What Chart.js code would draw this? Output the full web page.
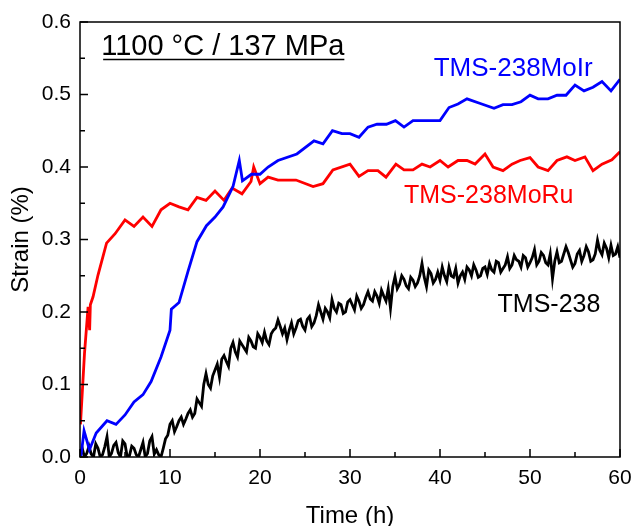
<!DOCTYPE html>
<html>
<head>
<meta charset="utf-8">
<script src="https://cdn.jsdelivr.net/npm/chart.js@4.4.1/dist/chart.umd.min.js"></script>
<style>
  html, body { margin: 0; padding: 0; background: #fff; }
</style>
</head>
<body>
<canvas id="creep-chart" width="633" height="526"></canvas>
<script>
// TMS-238MoRu (red)
const ruTime = [0.05, 0.5, 0.9, 1.07, 1.15, 1.45, 2.0, 2.95, 3.9, 5.0, 6.0, 7.0, 8.0, 9.0, 10.0, 11.0, 12.0, 13.0, 14.0, 15.0, 16.0, 16.9, 18.0, 19.0, 19.3, 20.0, 20.9, 22.0, 24.0, 25.9, 27.0, 28.1, 30.0, 31.0, 32.0, 33.1, 34.0, 35.1, 36.0, 37.0, 38.0, 38.9, 40.0, 40.9, 42.0, 43.0, 43.9, 45.0, 45.9, 47.0, 48.0, 48.9, 50.0, 50.9, 52.0, 53.0, 54.1, 55.0, 56.1, 57.0, 58.0, 59.1, 60.0];
const ruStrain = [0.045, 0.143, 0.207, 0.175, 0.21, 0.221, 0.251, 0.295, 0.308, 0.327, 0.318, 0.331, 0.318, 0.341, 0.35, 0.345, 0.341, 0.358, 0.354, 0.367, 0.354, 0.371, 0.363, 0.38, 0.4, 0.377, 0.386, 0.382, 0.382, 0.373, 0.377, 0.396, 0.404, 0.387, 0.395, 0.395, 0.386, 0.404, 0.396, 0.396, 0.404, 0.4, 0.409, 0.4, 0.409, 0.409, 0.404, 0.418, 0.4, 0.395, 0.404, 0.409, 0.413, 0.4, 0.395, 0.409, 0.414, 0.409, 0.414, 0.395, 0.404, 0.41, 0.421];

// TMS-238MoIr (blue)
const irTime = [0.1, 0.45, 1.05, 1.8, 3.0, 4.0, 5.0, 6.0, 7.0, 7.9, 9.0, 10.0, 10.15, 11.0, 12.0, 13.0, 14.05, 15.0, 15.9, 17.0, 17.7, 18.05, 19.05, 20.0, 20.9, 22.0, 24.1, 26.0, 27.0, 28.05, 29.1, 30.0, 31.0, 32.0, 33.0, 34.05, 35.05, 36.0, 37.0, 38.0, 39.0, 40.0, 41.0, 42.0, 43.0, 44.4, 46.0, 47.0, 48.0, 49.0, 50.0, 50.9, 52.0, 53.0, 54.0, 55.0, 56.0, 57.0, 58.0, 59.0, 60.0];
const irStrain = [0.0, 0.036, 0.01, 0.033, 0.05, 0.045, 0.058, 0.076, 0.086, 0.104, 0.138, 0.175, 0.204, 0.213, 0.256, 0.297, 0.319, 0.331, 0.345, 0.373, 0.409, 0.381, 0.39, 0.39, 0.4, 0.409, 0.418, 0.436, 0.432, 0.45, 0.446, 0.446, 0.441, 0.455, 0.459, 0.459, 0.464, 0.455, 0.464, 0.464, 0.464, 0.464, 0.482, 0.487, 0.494, 0.488, 0.481, 0.486, 0.486, 0.49, 0.499, 0.494, 0.494, 0.499, 0.499, 0.513, 0.505, 0.51, 0.518, 0.505, 0.521];

// TMS-238 (black, noisy)
const baseTime = [
  0, 0.25, 0.5, 0.75, 1, 1.25, 1.5, 1.75, 2, 2.25, 2.5, 2.75, 3, 3.25, 3.5, 3.75, 4, 4.25, 4.5, 4.75,
  5, 5.25, 5.5, 5.75, 6, 6.25, 6.5, 6.75, 7, 7.25, 7.5, 7.75, 8, 8.25, 8.5, 8.75, 9, 9.25, 9.5, 9.75,
  10, 10.25, 10.5, 10.75, 11, 11.25, 11.5, 11.75, 12, 12.25, 12.5, 12.75, 13, 13.25, 13.5, 13.75, 14, 14.25, 14.5, 14.75,
  15, 15.25, 15.5, 15.75, 16, 16.25, 16.5, 16.75, 17, 17.25, 17.5, 17.75, 18, 18.25, 18.5, 18.75, 19, 19.25, 19.5, 19.75,
  20, 20.25, 20.5, 20.75, 21, 21.25, 21.5, 21.75, 22, 22.25, 22.5, 22.75, 23, 23.25, 23.5, 23.75, 24, 24.25, 24.5, 24.75,
  25, 25.25, 25.5, 25.75, 26, 26.25, 26.5, 26.75, 27, 27.25, 27.5, 27.75, 28, 28.25, 28.5, 28.75, 29, 29.25, 29.5, 29.75,
  30, 30.25, 30.5, 30.75, 31, 31.25, 31.5, 31.75, 32, 32.25, 32.5, 32.75, 33, 33.25, 33.5, 33.75, 34, 34.25, 34.5, 34.75,
  35, 35.25, 35.5, 35.75, 36, 36.25, 36.5, 36.75, 37, 37.25, 37.5, 37.75, 38, 38.25, 38.5, 38.75, 39, 39.25, 39.5, 39.75,
  40, 40.25, 40.5, 40.75, 41, 41.25, 41.5, 41.75, 42, 42.25, 42.5, 42.75, 43, 43.25, 43.5, 43.75, 44, 44.25, 44.5, 44.75,
  45, 45.25, 45.5, 45.75, 46, 46.25, 46.5, 46.75, 47, 47.25, 47.5, 47.75, 48, 48.25, 48.5, 48.75, 49, 49.25, 49.5, 49.75,
  50, 50.25, 50.5, 50.75, 51, 51.25, 51.5, 51.75, 52, 52.25, 52.5, 52.75, 53, 53.25, 53.5, 53.75, 54, 54.25, 54.5, 54.75,
  55, 55.25, 55.5, 55.75, 56, 56.25, 56.5, 56.75, 57, 57.25, 57.5, 57.75, 58, 58.25, 58.5, 58.75, 59, 59.25, 59.5, 59.75,
  60
];
const baseStrain = [
  0.0, 0.012, 0.0, 0.005, 0.015, 0.004, 0.0, 0.018, 0.012, 0.0, 0.003, 0.014, 0.028, 0.0, 0.005, 0.016, 0.02, 0.006, 0.0, 0.022,
  0.018, 0.0, 0.002, 0.015, 0.012, 0.003, 0.0, 0.01, 0.02, 0.0, 0.005, 0.022, 0.028, 0.004, 0.01, 0.003, 0.0, 0.012, 0.025, 0.03,
  0.045, 0.05, 0.035, 0.042, 0.05, 0.055, 0.045, 0.052, 0.06, 0.065, 0.055, 0.06, 0.08, 0.075, 0.07, 0.1, 0.115, 0.1, 0.095, 0.112,
  0.12, 0.128, 0.11, 0.135, 0.14, 0.132, 0.125, 0.15, 0.158, 0.145, 0.138, 0.16, 0.155, 0.15, 0.145, 0.165, 0.16, 0.152, 0.15, 0.17,
  0.165, 0.158, 0.172, 0.16, 0.155, 0.17, 0.175, 0.178, 0.189, 0.18, 0.17, 0.178, 0.162, 0.175, 0.185, 0.17, 0.178, 0.188, 0.19, 0.18,
  0.175, 0.19, 0.194, 0.18, 0.185, 0.195, 0.21, 0.2, 0.19, 0.205, 0.2, 0.192, 0.217, 0.205, 0.2, 0.212, 0.21, 0.198, 0.2, 0.214,
  0.217, 0.21, 0.203, 0.222, 0.215, 0.205, 0.21, 0.22, 0.228, 0.218, 0.215, 0.228, 0.222, 0.212, 0.23, 0.222, 0.215, 0.232, 0.205, 0.235,
  0.249, 0.232, 0.238, 0.25, 0.245, 0.236, 0.232, 0.248, 0.244, 0.235, 0.24, 0.25, 0.267, 0.248, 0.235, 0.258, 0.253, 0.24, 0.245, 0.255,
  0.244, 0.262, 0.25, 0.242, 0.262, 0.25, 0.248, 0.26, 0.24, 0.25, 0.255, 0.245, 0.262, 0.258, 0.25, 0.265, 0.258, 0.248, 0.25, 0.26,
  0.262, 0.252, 0.267, 0.258, 0.255, 0.27, 0.268, 0.255, 0.26, 0.265, 0.276, 0.26, 0.265, 0.278, 0.272, 0.27, 0.262, 0.278, 0.275, 0.262,
  0.268, 0.275, 0.286, 0.265, 0.27, 0.282, 0.278, 0.268, 0.265, 0.28, 0.246, 0.27, 0.283, 0.268, 0.27, 0.28, 0.29, 0.282, 0.272, 0.262,
  0.267, 0.28, 0.285, 0.27, 0.278, 0.29, 0.283, 0.27, 0.272, 0.28, 0.299, 0.285, 0.279, 0.295, 0.288, 0.275, 0.292, 0.278, 0.28, 0.29,
  0.275
];

const xTicks = { min: 0, max: 60, step: 10 };
const yTicks = { min: 0, max: 0.6, step: 0.1 };

const FONT = '"Liberation Sans", Arial, Helvetica, sans-serif';

const toPoints = (xs, ys) => xs.map((t, i) => ({ x: t, y: ys[i] }));

// draws the frame, inward ticks and the text labels
const framePlugin = {
  id: 'framePlugin',
  afterDatasetsDraw(chart) {
    const { ctx, chartArea: a, scales: { x, y } } = chart;
    ctx.save();
    ctx.strokeStyle = '#000';
    ctx.lineWidth = 1.5;
    ctx.strokeRect(a.left, a.top, a.right - a.left, a.bottom - a.top);

    ctx.beginPath();
    const xt = x.ticks.map(t => t.value);
    xt.forEach((v, i) => {
      const px = x.getPixelForValue(v);
      ctx.moveTo(px, a.bottom); ctx.lineTo(px, a.bottom - 8);
      if (i < xt.length - 1) {
        const mx = x.getPixelForValue((v + xt[i + 1]) / 2);
        ctx.moveTo(mx, a.bottom); ctx.lineTo(mx, a.bottom - 5);
      }
    });
    const yt = y.ticks.map(t => t.value);
    yt.forEach((v, i) => {
      const py = y.getPixelForValue(v);
      ctx.moveTo(a.left, py); ctx.lineTo(a.left + 8, py);
      if (i < yt.length - 1) {
        const my = y.getPixelForValue((v + yt[i + 1]) / 2);
        ctx.moveTo(a.left, my); ctx.lineTo(a.left + 5, my);
      }
    });
    ctx.stroke();

    // labels
    ctx.textBaseline = 'alphabetic';
    ctx.textAlign = 'left';

    ctx.font = '29px ' + FONT;
    ctx.fillStyle = '#000';
    const title = '1100 °C / 137 MPa';
    const tx = x.getPixelForValue(2.35), ty = y.getPixelForValue(0.5545);
    ctx.fillText(title, tx, ty);
    const w = ctx.measureText(title).width;
    ctx.beginPath();
    ctx.lineWidth = 1.6;
    ctx.moveTo(tx + 2, ty + 4.5); ctx.lineTo(tx + w, ty + 4.5);
    ctx.stroke();

    ctx.font = '26px ' + FONT;
    ctx.fillStyle = '#0000ff';
    ctx.fillText('TMS-238MoIr', x.getPixelForValue(39.3), y.getPixelForValue(0.5255));

    ctx.font = '25px ' + FONT;
    ctx.fillStyle = '#ff0000';
    ctx.fillText('TMS-238MoRu', x.getPixelForValue(36.0), y.getPixelForValue(0.35));

    ctx.fillStyle = '#000';
    ctx.fillText('TMS-238', x.getPixelForValue(46.4), y.getPixelForValue(0.2004));
    ctx.restore();
  }
};

const lineStyle = { pointRadius: 0, borderWidth: 2.8, tension: 0, fill: false };

new Chart(document.getElementById('creep-chart'), {
  type: 'line',
  data: {
    datasets: [
      { label: 'TMS-238MoIr', data: toPoints(irTime, irStrain), borderColor: '#0000ff', order: 1, ...lineStyle },
      { label: 'TMS-238MoRu', data: toPoints(ruTime, ruStrain), borderColor: '#ff0000', order: 2, ...lineStyle },
      { label: 'TMS-238', data: toPoints(baseTime, baseStrain), borderColor: '#000000', order: 3, ...lineStyle }
    ]
  },
  options: {
    responsive: false,
    animation: false,
    layout: { padding: { top: 22, right: 13, left: 0, bottom: 0 } },
    plugins: { legend: { display: false }, tooltip: { enabled: false } },
    scales: {
      x: {
        type: 'linear',
        min: xTicks.min, max: xTicks.max,
        grid: { display: false, drawTicks: false },
        border: { display: false },
        ticks: { stepSize: xTicks.step, color: '#000', font: { family: FONT, size: 21 }, padding: 9, maxRotation: 0 },
        title: { display: true, text: 'Time (h)', color: '#000', font: { family: FONT, size: 24, lineHeight: 0.8 }, padding: { top: 0, bottom: 0 } },
        afterFit: s => { s.height = 69; s.paddingLeft = 0; s.paddingRight = 0; }
      },
      y: {
        type: 'linear',
        min: yTicks.min, max: yTicks.max,
        grid: { display: false, drawTicks: false },
        border: { display: false },
        ticks: { stepSize: yTicks.step, color: '#000', font: { family: FONT, size: 21 }, padding: 9, callback: v => v.toFixed(1) },
        title: { display: true, text: 'Strain (%)', color: '#000', font: { family: FONT, size: 24, lineHeight: 1.2 }, padding: { top: 7, bottom: 0 } },
        afterFit: s => { s.width = 80; }
      }
    }
  },
  plugins: [framePlugin]
});
</script>
</body>
</html>
